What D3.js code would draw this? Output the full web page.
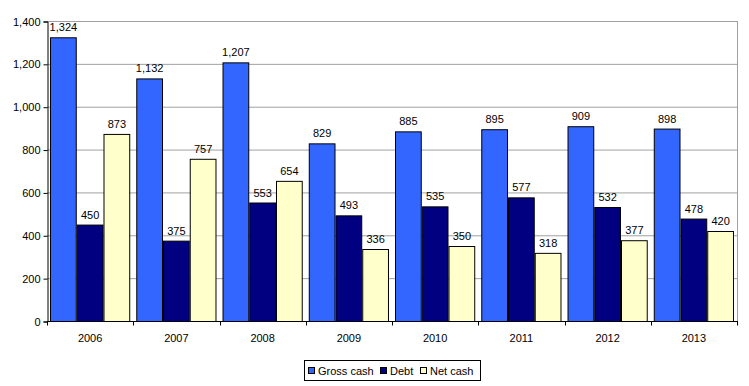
<!DOCTYPE html>
<html><head><meta charset="utf-8">
<script src="https://cdn.jsdelivr.net/npm/d3@7"></script>
<style>body{margin:0;background:#fff}svg{display:block;font-family:"Liberation Sans",Arial,sans-serif}</style>
</head><body><svg id="c" width="749" height="386"></svg>
<script>
const categories=["2006","2007","2008","2009","2010","2011","2012","2013"];
const grossCash=[1324,1132,1207,829,885,895,909,898];
const debt=[450,375,553,493,535,577,532,478];
const netCash=[873,757,654,336,350,318,377,420];
const seriesNames=["Gross cash","Debt","Net cash"];
const seriesColors=["#3366FF","#000080","#FFFFCC"];
const yTicks=[0,200,400,600,800,1000,1200,1400];

const svg=d3.select("#c");
const L=47,R=737,T=21,B=321;
const x=d3.scaleBand().domain(categories).range([L,R]).paddingInner(0.07).paddingOuter(0.035);
const y=d3.scaleLinear().domain([0,1400]).range([B,T]);
const xs=d3.scaleBand().domain(seriesNames).range([0,x.bandwidth()]);
const series=[grossCash,debt,netCash];
const fmt=d3.format(",");

// gridlines
svg.append("g").selectAll("line").data(yTicks.filter(d=>d>0)).join("line")
 .attr("x1",L).attr("x2",R).attr("y1",d=>y(d)+0.5).attr("y2",d=>y(d)+0.5)
 .attr("stroke","#a0a0a0").attr("stroke-width",1);
svg.append("line").attr("x1",R+0.5).attr("x2",R+0.5).attr("y1",T).attr("y2",B).attr("stroke","#a0a0a0");

// bars
series.forEach((vals,si)=>{
  svg.append("g").selectAll("rect").data(vals).join("rect")
   .attr("x",(d,i)=>x(categories[i])+xs(seriesNames[si])+0.5)
   .attr("y",d=>y(d)+0.5)
   .attr("width",xs.bandwidth()-1)
   .attr("height",d=>B-y(d))
   .attr("fill",seriesColors[si]).attr("stroke","#000").attr("stroke-width",1);
  svg.append("g").selectAll("text").data(vals).join("text")
   .attr("x",(d,i)=>x(categories[i])+xs(seriesNames[si])+xs.bandwidth()/2)
   .attr("y",d=>y(d)-6)
   .attr("text-anchor","middle").attr("font-size",11).attr("fill","#000")
   .text(d=>fmt(d));
});

// y axis
const ya=svg.append("g").attr("transform",`translate(${L+0.5},0.5)`)
 .call(d3.axisLeft(y).tickValues(yTicks).tickFormat(fmt).tickSize(4).tickPadding(3));
ya.selectAll("text").attr("font-size",11).attr("fill","#000").attr("font-family","Liberation Sans, Arial, sans-serif");
ya.select(".domain").attr("stroke","#000");
ya.selectAll(".tick line").attr("stroke","#000");

// x axis
const xa=svg.append("g").attr("transform",`translate(0,${B+0.5})`);
xa.append("line").attr("x1",L).attr("x2",R+1).attr("stroke","#000");
const bounds=d3.range(categories.length+1).map(i=>L+i*(R-L)/categories.length);
xa.selectAll("line.t").data(bounds).join("line").attr("class","t")
 .attr("x1",d=>Math.round(d)+0.5).attr("x2",d=>Math.round(d)+0.5).attr("y1",0).attr("y2",4).attr("stroke","#000");
xa.selectAll("text").data(categories).join("text")
 .attr("x",d=>x(d)+x.bandwidth()/2).attr("y",20)
 .attr("text-anchor","middle").attr("font-size",11).attr("fill","#000").text(d=>d);

// legend
const lg=svg.append("g");
lg.append("rect").attr("x",304.5).attr("y",360.5).attr("width",176).attr("height",20).attr("fill","#fff").attr("stroke","#000");
const lx=[308,380,420];
seriesNames.forEach((n,i)=>{
  lg.append("rect").attr("x",lx[i]+0.5).attr("y",367.5).attr("width",6).attr("height",6).attr("fill",seriesColors[i]).attr("stroke","#000");
  lg.append("text").attr("x",lx[i]+10).attr("y",375).attr("font-size",11).attr("fill","#000").text(n);
});
</script></body></html>
